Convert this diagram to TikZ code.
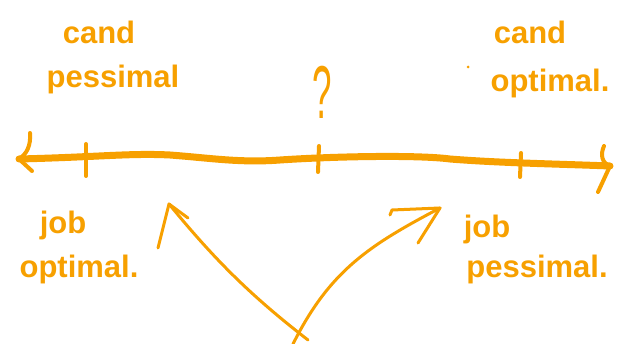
\documentclass[tikz,border=0pt]{standalone}
\usepackage{fontspec}
\setmainfont{Liberation Sans}
\definecolor{pen}{RGB}{247,160,0}
\begin{document}
\begin{tikzpicture}[x=1pt,y=-1pt,
  lbl/.style={text=pen,font=\bfseries\fontsize{31}{34}\selectfont,inner sep=0pt,anchor=base},
  axis/.style={draw=pen,line width=7pt,line cap=round,line join=round},
  tick/.style={draw=pen,line width=4pt,line cap=round},
  pointer/.style={draw=pen,line width=3pt,line cap=round,line join=round}]
\useasboundingbox (0,0) rectangle (639,344);
% axis
\coordinate (L) at (19,159);
\coordinate (R) at (610,166);
\draw[axis] (L) .. controls (100,157) and (130,153) .. (170,155)
  .. controls (210,158) and (240,163) .. (280,160)
  .. controls (340,156) and (420,155) .. (450,159)
  .. controls (500,163) and (560,164) .. (R);
\draw[tick] (30,133) .. controls (31,145) and (27,154) .. (L) -- (32,171);
\draw[tick] (604,146) .. controls (600,155) and (602,163) .. (R) -- (598,192);
% ticks
\draw[tick] (86,144) -- (86,176);
\draw[tick] (319,146) -- (318,172);
\draw[tick] (521,153) -- (520,177);
% labels
\node[lbl] (c1) at (99,44) {cand};
\node[lbl] (p1) at (113,88) {pessimal};
\node[lbl,font=\fontsize{50}{50}\selectfont,xscale=0.7,yscale=1.5] (q) at (322,119) {?};
\node[lbl] (c2) at (530,44) {cand};
\node[lbl] (o1) at (550,92) {optimal.};
\node[lbl] (j1) at (63,234) {job};
\node[lbl] (o2) at (79,278) {optimal.};
\node[lbl] (j2) at (487,238) {job};
\node[lbl] (p2) at (537,278) {pessimal.};
\fill[pen] (468,67) circle (1.5pt);
% pointers
\coordinate (b1) at (308,340);
\coordinate (b2) at (293,344);
\coordinate (a1) at (169,204);
\coordinate (a2) at (440,208);
\draw[pointer] (b1) .. controls (250,295) and (215,260) .. (a1);
\draw[pointer] (158,248) -- (a1) -- (188,218);
\draw[pointer] (b2) .. controls (330,270) and (370,245) .. (a2);
\draw[pointer] (390,215) -- (392,210) -- (a2) -- (418,243);
\end{tikzpicture}
\end{document}
